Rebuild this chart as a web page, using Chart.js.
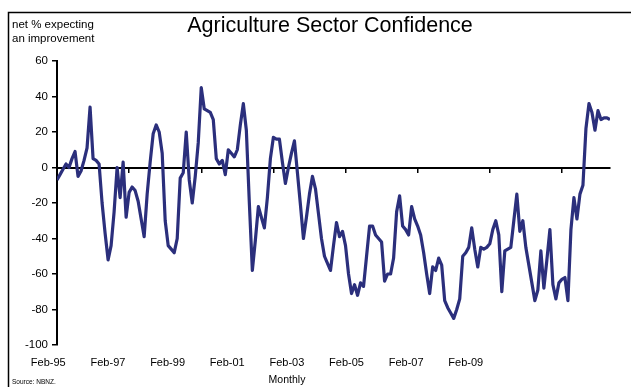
<!DOCTYPE html>
<html>
<head>
<meta charset="utf-8">
<title>Agriculture Sector Confidence</title>
<script src="https://cdn.jsdelivr.net/npm/chart.js@4/dist/chart.umd.min.js"></script>
<style>
  html, body { margin: 0; padding: 0; background: #ffffff; }
  #chart { display: block; }
</style>
</head>
<body>
<canvas id="chart" width="631" height="387"></canvas>
<script>
// Net % of agriculture respondents expecting an improvement, monthly from Feb-95.
const startYear = 1995;
const startMonth = 1; // February (0-based)
const confidence = [
  -7, -4, -1, 2, 0, 5, 9, -5, -2, 4, 11, 34,
  5, 4, 2, -20, -37, -52, -44, -25, 0, -17, 3, -28,
  -14, -11, -13, -19, -29, -39, -15, 3, 19, 24, 20, 8,
  -30, -44, -46, -48, -40, -6, -3, 20, -7, -20, -5, 14,
  45, 33, 32, 31, 27, 5, 2, 4, -4, 10, 8, 6,
  10, 24, 36, 21, -20, -58, -41, -22, -28, -34, -17, 5,
  17, 16, 16, 3, -9, 0, 8, 15, -3, -21, -40, -28,
  -15, -5, -12, -26, -40, -50, -54, -58, -44, -31, -39, -36,
  -44, -60, -71, -66, -72, -65, -67, -50, -33, -33, -38, -40,
  -42, -64, -60, -60, -51, -25, -16, -33, -35, -38, -22, -29,
  -33, -38, -48, -60, -71, -56, -58, -51, -55, -75, -79, -82,
  -85, -80, -74, -50, -48, -45, -34, -46, -56, -45, -46, -45,
  -43, -35, -30, -38, -70, -47, -46, -45, -30, -15, -36, -30,
  -45, -55, -65, -75, -69, -47, -68, -52, -35, -66, -74, -65,
  -63, -62, -75, -35, -17, -29, -15, -10, 22, 36, 31, 21,
  32, 27, 28, 28, 27
];

// Axis text
const yTicks = [60, 40, 20, 0, -20, -40, -60, -80, -100];
const xTickLabels = ['Feb-95', 'Feb-97', 'Feb-99', 'Feb-01', 'Feb-03', 'Feb-05', 'Feb-07', 'Feb-09'];
const monthsPerTick = 24;

const monthNames = ['Jan','Feb','Mar','Apr','May','Jun','Jul','Aug','Sep','Oct','Nov','Dec'];
const monthLabels = confidence.map((_, i) => {
  const m = startMonth + i;
  const y = startYear + Math.floor(m / 12);
  return monthNames[m % 12] + '-' + String(y % 100).padStart(2, '0');
});

const FONT = "'Liberation Sans', Arial, Helvetica, sans-serif";
const LINE = '#2B2F7C';

// Frame, title and captions around the plot
const decorations = {
  id: 'decorations',
  afterDraw(chart) {
    const c = chart.ctx;
    c.save();
    c.strokeStyle = '#000';
    c.lineWidth = 1.5;
    c.beginPath();
    c.moveTo(8.5, 388);
    c.lineTo(8.5, 12.5);
    c.lineTo(632, 12.5);
    c.stroke();

    c.fillStyle = '#000';
    c.textBaseline = 'middle';

    c.font = '21.5px ' + FONT;
    c.textAlign = 'center';
    c.fillText('Agriculture Sector Confidence', 330, 26);

    c.font = '11.5px ' + FONT;
    c.textAlign = 'left';
    c.fillText('net % expecting', 12, 25);
    c.fillText('an improvement', 12, 39);

    c.font = '10.5px ' + FONT;
    c.textAlign = 'center';
    c.fillText('Monthly', 287, 380);

    c.font = '6.5px ' + FONT;
    c.textAlign = 'left';
    c.fillText('Source: NBNZ.', 12, 382);
    c.restore();
  }
};

const points = confidence.map((v, i) => ({ x: i, y: v }));

new Chart(document.getElementById('chart'), {
  type: 'line',
  data: {
    labels: monthLabels,
    datasets: [{
      label: 'Agriculture sector confidence',
      data: points,
      borderColor: LINE,
      borderWidth: 3.2,
      pointRadius: 0,
      tension: 0,
      fill: false,
      borderJoinStyle: 'round'
    }]
  },
  options: {
    responsive: false,
    animation: false,
    layout: { padding: { top: 61, right: 21, left: 0, bottom: 0 } },
    plugins: {
      legend: { display: false },
      tooltip: { enabled: false },
      title: { display: false }
    },
    scales: {
      x: {
        type: 'linear',
        min: 0,
        max: confidence.length - 1,
        position: { y: 0 },
        afterBuildTicks(scale) {
          const t = [];
          for (let m = 0; m < confidence.length; m += monthsPerTick) t.push({ value: m });
          scale.ticks = t;
        },
        ticks: { display: false },
        grid: {
          display: true,
          drawOnChartArea: false,
          drawTicks: true,
          tickLength: 4,
          color: '#000',
          lineWidth: 1.5
        },
        border: { display: true, color: '#000', width: 2 }
      },
      xLabels: {
        type: 'linear',
        position: 'bottom',
        min: 0,
        max: 553 / 59.64,
        afterBuildTicks(scale) {
          scale.ticks = xTickLabels.map((_, i) => ({ value: i }));
        },
        afterFit(scale) { scale.height = 42; },
        ticks: {
          autoSkip: false,
          maxRotation: 0,
          labelOffset: -8.7,
          padding: 11,
          color: '#000',
          font: { family: FONT, size: 11 },
          callback: (v) => xTickLabels[v] ?? ''
        },
        grid: { display: false, drawTicks: false },
        border: { display: false }
      },
      y: {
        min: yTicks[yTicks.length - 1],
        max: yTicks[0],
        afterBuildTicks(scale) {
          scale.ticks = yTicks.map(v => ({ value: v }));
        },
        afterFit(scale) { scale.width = 57; },
        ticks: {
          color: '#000',
          padding: 4,
          font: { family: FONT, size: 11.5 }
        },
        grid: {
          display: true,
          drawOnChartArea: false,
          drawTicks: true,
          tickLength: 5,
          color: '#000',
          lineWidth: 1.5
        },
        border: { display: true, color: '#000', width: 2 }
      }
    }
  },
  plugins: [decorations]
});
</script>
</body>
</html>
